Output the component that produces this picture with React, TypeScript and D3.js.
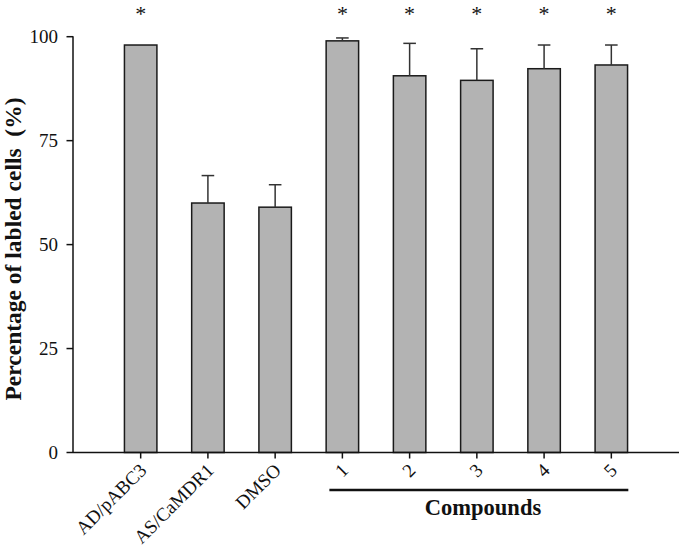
import React from "react";
import * as d3 from "d3";

const categories = ["AD/pABC3", "AS/CaMDR1", "DMSO", "1", "2", "3", "4", "5"];
const values = [98.0, 60.0, 59.0, 99.0, 90.6, 89.5, 92.3, 93.2];
const errors = [0, 6.6, 5.4, 0.7, 7.8, 7.6, 5.7, 4.8];
const significant = [true, false, false, true, true, true, true, true];
const yTicks = [0, 25, 50, 75, 100];
const groupLabel = "Compounds";
const groupMembers = ["1", "2", "3", "4", "5"];

const W = 680;
const H = 551;
const FONT = "'Liberation Serif', 'Times New Roman', serif";

export default function App() {
  const y = d3.scaleLinear().domain([0, 100]).range([452.5, 36.7]);
  const x = d3
    .scaleBand<string>()
    .domain(categories)
    .range([73, 679])
    .paddingInner(0.517)
    .paddingOuter(0.765);
  const bw = x.bandwidth();
  const cx = (c: string) => (x(c) as number) + bw / 2;
  const gx0 = cx(groupMembers[0]) - 13;
  const gx1 = cx(groupMembers[groupMembers.length - 1]) + 17;

  return (
    <svg
      width={W}
      height={H}
      style={{ position: "absolute", left: 0, top: 0, background: "#fff" }}
      fontFamily={FONT}
    >
      {/* bars */}
      {categories.map((c, i) => (
        <rect
          key={c}
          x={x(c)}
          y={y(values[i])}
          width={bw}
          height={y(0) - y(values[i])}
          fill="#b3b3b3"
          stroke="#1a1a1a"
          strokeWidth={1.5}
        />
      ))}
      {/* error bars */}
      {categories.map((c, i) =>
        errors[i] > 0 ? (
          <g key={"e" + c} stroke="#333" strokeWidth={1.5}>
            <line x1={cx(c)} x2={cx(c)} y1={y(values[i])} y2={y(values[i] + errors[i])} />
            <line
              x1={cx(c) - 6.3}
              x2={cx(c) + 6.3}
              y1={y(values[i] + errors[i])}
              y2={y(values[i] + errors[i])}
            />
          </g>
        ) : null
      )}
      {/* asterisks */}
      {categories.map((c, i) =>
        significant[i] ? (
          <text key={"s" + c} x={cx(c)} y={21} textAnchor="middle" fontSize={22} fill="#111">
            *
          </text>
        ) : null
      )}
      {/* y axis */}
      <line x1={73} x2={73} y1={y(100) - 0.5} y2={y(0)} stroke="#111" strokeWidth={1.5} />
      {yTicks.map((t) => (
        <g key={"yt" + t}>
          <line x1={66.5} x2={73} y1={y(t)} y2={y(t)} stroke="#111" strokeWidth={1.5} />
          <text x={58} y={y(t)} dy="0.35em" textAnchor="end" fontSize={19} fill="#111">
            {t}
          </text>
        </g>
      ))}
      {/* x axis */}
      <line x1={73} x2={679} y1={y(0)} y2={y(0)} stroke="#111" strokeWidth={1.5} />
      {categories.map((c) => (
        <g key={"xt" + c}>
          <line x1={cx(c)} x2={cx(c)} y1={y(0)} y2={y(0) + 6} stroke="#111" strokeWidth={1.5} />
          <text
            transform={`translate(${cx(c) + 7},${y(0) + 19}) rotate(-45)`}
            textAnchor="end"
            fontSize={19}
            fill="#111"
          >
            {c}
          </text>
        </g>
      ))}
      {/* group bar */}
      <line x1={gx0} x2={gx1} y1={490} y2={490} stroke="#111" strokeWidth={2.5} />
      <text
        x={483}
        y={515}
        textAnchor="middle"
        fontSize={22.5}
        fontWeight="bold"
        fill="#111"
      >
        {groupLabel}
      </text>
      {/* y title */}
      <text
        transform={`translate(21,249) rotate(-90)`}
        textAnchor="middle"
        fontSize={23.5}
        fontWeight="bold"
        fill="#111"
      >
        {"Percentage of labled cells\u00a0 (%)"}
      </text>
    </svg>
  );
}
